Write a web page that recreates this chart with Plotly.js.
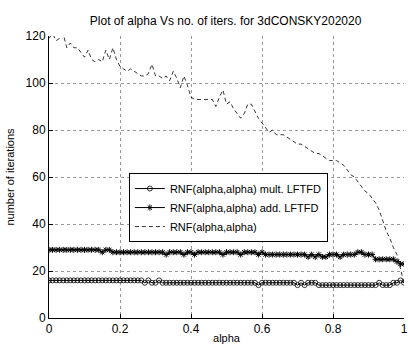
<!DOCTYPE html>
<html>
<head>
<meta charset="utf-8">
<script src="https://cdn.plot.ly/plotly-3.0.1.min.js"></script>
<style>html,body{margin:0;padding:0;background:#fff;}#chart{width:408px;height:344px;}</style>
</head>
<body>
<div id="chart"></div>
<script>
const alpha = [0,0.01,0.02,0.03,0.04,0.05,0.06,0.07,0.08,0.09,0.1,0.11,0.12,0.13,0.14,0.15,0.16,0.17,0.18,0.19,0.2,0.21,0.22,0.23,0.24,0.25,0.26,0.27,0.28,0.29,0.3,0.31,0.32,0.33,0.34,0.35,0.36,0.37,0.38,0.39,0.4,0.41,0.42,0.43,0.44,0.45,0.46,0.47,0.48,0.49,0.5,0.51,0.52,0.53,0.54,0.55,0.56,0.57,0.58,0.59,0.6,0.61,0.62,0.63,0.64,0.65,0.66,0.67,0.68,0.69,0.7,0.71,0.72,0.73,0.74,0.75,0.76,0.77,0.78,0.79,0.8,0.81,0.82,0.83,0.84,0.85,0.86,0.87,0.88,0.89,0.9,0.91,0.92,0.93,0.94,0.95,0.96,0.97,0.98,0.99,1];

const multLFTFD = [16,16,16,16,16,16,16,16,16,16,16,16,16,16,16,16,16,16,16,16,16,16,16,16,16,16,16,15,16,15,15,16,15,15,15,15,15,15,15,15,15,15,15,15,15,15,15,15,15,15,15,15,15,15,15,15,15,15,15,14,15,15,15,15,15,15,15,15,15,15,14,15,14,15,15,15,14,14,14,14,14,14,14,14,14,14,14,14,14,14,14,14,14,15,14,14,14,15,15,16,15];

const addLFTFD = [29,29,29,29,29,29,29,29,29,29,29,29,29,29,29,28,29,29,28,28,28,28,28,28,28,28,28,28,28,28,28,28,28,27,28,28,28,28,27,28,28,27,28,28,28,28,28,28,28,27,28,28,28,28,27,28,28,28,28,27,28,27,27,27,27,27,27,27,27,27,27,27,27,26,27,26,27,26,26,27,27,27,26,27,27,27,27,28,28,27,27,27,25,25,25,25,25,25,24,23,23];

const plainRNF = [119,121,118,119,121,115,117,115,115,113,111,114,110,109,110,109,114,110,115,110,107,106,105,106,105,104,103,103,104,108,103,103,102,103,101,105,102,98,103,99,94,93,93,93,93,93,93,90,94,97,91,92,89,87,85,87,91,91,88,85,83,81,79,80,78,78,78,77,76,75,74,74,73,72,71,70,70,69,68,67,67,67,66,65,63,61,60,58,56,54,53,51,49,46,41,37,34,30,27,21,15];

const seriesNames = ['RNF(alpha,alpha) mult. LFTFD','RNF(alpha,alpha) add. LFTFD','RNF(alpha,alpha)'];
const xTicks = [0,0.2,0.4,0.6,0.8,1];
const xTickText = ['0','0.2','0.4','0.6','0.8','1'];
const yTicks = [0,20,40,60,80,100,120];

const font = 'Liberation Sans, Arial, Helvetica, sans-serif';

const traces = [
  {x: alpha, y: multLFTFD, name: seriesNames[0], type: 'scatter', mode: 'lines+markers',
   line: {color: '#000', width: 1},
   marker: {symbol: 'circle-open', size: 5, color: '#000', line: {width: 0.8, color: '#000'}}},
  {x: alpha, y: addLFTFD, name: seriesNames[1], type: 'scatter', mode: 'lines+markers',
   line: {color: '#000', width: 1},
   marker: {symbol: 'asterisk-open', size: 5, color: '#000', line: {width: 1, color: '#000'}}},
  {x: alpha, y: plainRNF, name: seriesNames[2], type: 'scatter', mode: 'lines',
   line: {color: '#000', width: 0.8, dash: '4px,3px'}}
];

const axisCommon = {
  showgrid: true, gridcolor: '#999', griddash: 'dot', gridwidth: 1,
  zeroline: false, showline: true, linecolor: '#000', linewidth: 1,
  ticks: 'inside', ticklen: 4, tickcolor: '#000', mirror: false,
  ticklabeloverflow: 'allow',
  tickfont: {family: font, size: 12, color: '#000'}
};

const layout = {
  width: 408, height: 344,
  margin: {l: 49, r: 4, t: 36, b: 26},
  paper_bgcolor: '#fff', plot_bgcolor: '#fff',
  title: {text: 'Plot of alpha Vs no. of iters. for 3dCONSKY202020', font: {family: font, size: 12, color: '#000'},
          x: 0.553, xanchor: 'center', y: 0.94, yanchor: 'middle'},
  xaxis: Object.assign({}, axisCommon, {range: [0, 1], tickvals: xTicks, ticktext: xTickText,
          title: {text: 'alpha', font: {family: font, size: 11, color: '#000'}, standoff: 3}}),
  yaxis: Object.assign({}, axisCommon, {range: [0, 120], tickvals: yTicks,
          title: {text: 'number of iterations', font: {family: font, size: 11, color: '#000'}, standoff: 8}}),
  legend: {x: 0.225, y: 0.514, xanchor: 'left', yanchor: 'top',
           bgcolor: '#fff', bordercolor: '#000', borderwidth: 1,
           font: {family: font, size: 11, color: '#000'}, itemwidth: 30, tracegroupgap: 0},
  showlegend: true
};

Plotly.newPlot('chart', traces, layout, {staticPlot: true, displayModeBar: false});
</script>
</body>
</html>
